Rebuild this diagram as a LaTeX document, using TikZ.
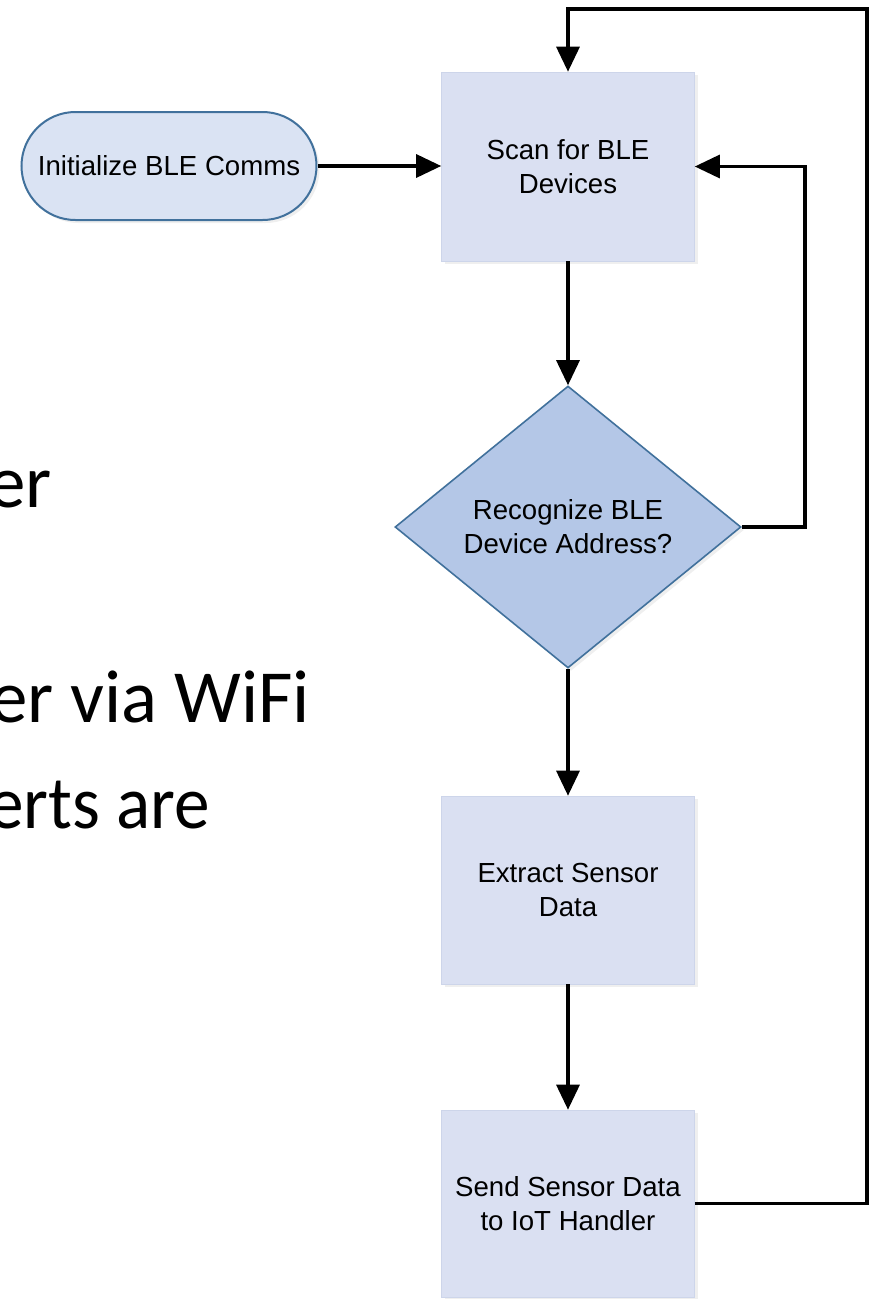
\documentclass[tikz,border=0pt]{standalone}
\usepackage{fontspec}
\setmainfont{Liberation Sans}
\newfontfamily\slidefont{Carlito}
\usetikzlibrary{arrows.meta,shapes.geometric,shadows}

\definecolor{boxfill}{RGB}{218,224,242}
\definecolor{pillfill}{RGB}{218,227,243}
\definecolor{decfill}{RGB}{180,199,231}
\definecolor{edgeblue}{RGB}{65,113,156}
\definecolor{boxedge}{RGB}{205,213,234}

\tikzset{
  label font/.style={font=\fontsize{27.6}{34}\selectfont, align=center, text=black},
  soft shadow/.style={drop shadow={shadow xshift=3pt, shadow yshift=-3pt, opacity=0.10, fill=black!60}},
  procbox/.style={rectangle, fill=boxfill, draw=boxedge, line width=0.6pt,
    minimum width=253pt, minimum height=188pt, inner sep=0pt, soft shadow, label font},
  startpill/.style={rectangle, rounded corners=54pt, fill=pillfill, draw=edgeblue,
    line width=2pt, minimum width=295pt, minimum height=108pt, inner sep=0pt, soft shadow, label font},
  decision/.style={diamond, fill=decfill, draw=edgeblue, line width=1.6pt,
    minimum width=346pt, minimum height=282pt, inner sep=0pt, soft shadow, label font},
  flow/.style={line width=3.2pt, -{Triangle[length=25pt, width=23pt]}},
  slidetext/.style={font=\slidefont\fontsize{75}{80}\selectfont, inner sep=0pt, text=black}
}

\begin{document}
\begin{tikzpicture}[x=1pt, y=-1pt]
  \useasboundingbox (0,0) rectangle (877,1299);
  \clip (0,0) rectangle (877,1299);
  \fill[white] (0,0) rectangle (877,1299);

  % slide text running in from the left edge
  \node[slidetext, anchor=base west] (frag1) at (-12,507) {er};
  \node[slidetext, anchor=base west] (frag2) at (-10,722) {er via WiFi};
  \node[slidetext, anchor=base west] (frag3) at (-12,828) {\scalebox{0.95}[1]{erts are}};

  % flowchart nodes
  \node[startpill] (init) at (169,166) {Initialize BLE Comms};
  \node[procbox, minimum height=189pt] (scan) at (568,166.5) {Scan for BLE\\Devices};
  \node[decision] (recog) at (568,527) {Recognize BLE\\Device Address?};
  \node[procbox] (extract) at (568,890) {Extract Sensor\\Data};
  \node[procbox, minimum height=187pt] (send) at (568,1203.5) {Send Sensor Data\\to IoT Handler};

  \coordinate (loopright) at (805,527);
  \coordinate (outerright) at (867,9);

  % connectors
  \draw[flow] (init.east) -- (init.east -| scan.west);
  \draw[flow] (scan.south) -- (recog.north);
  \draw[flow] (recog.east) -- (loopright) |- (scan.east);
  \draw[flow] (recog.south) -- (extract.north);
  \draw[flow] (extract.south) -- (send.north);
  \draw[flow] (send.east) -| (outerright) -| (scan.north);
\end{tikzpicture}
\end{document}
